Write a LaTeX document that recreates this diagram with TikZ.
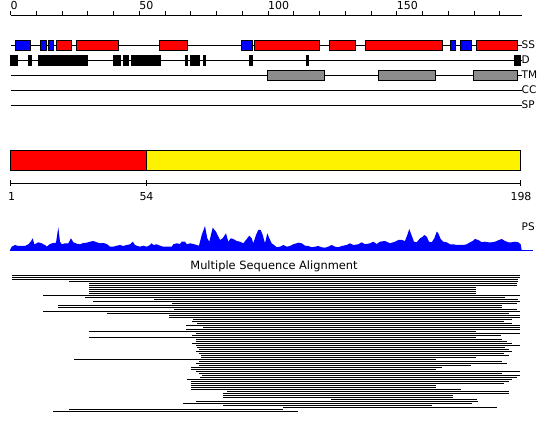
\documentclass[tikz,border=0pt]{standalone}
\usepackage{fontspec}
\setmainfont{DejaVu Sans}
\begin{document}
\begin{tikzpicture}[x=1pt,y=-1pt,
  trackline/.style={draw=black,line width=1pt},
  ssblue/.style={draw=black,fill=blue,line width=1pt},
  ssred/.style={draw=black,fill=red,line width=1pt},
  dbox/.style={draw=black,fill=black,line width=1pt},
  tmbox/.style={draw=black,fill=black!45,line width=1pt},
  lbl/.style={inner sep=0pt,font=\fontsize{10.5}{12}\selectfont},
  numlbl/.style={inner sep=0pt,font=\fontsize{11}{13}\selectfont},
  alnline/.style={draw=black,line width=0.95pt}]
\useasboundingbox (0,0) rectangle (550,433);
% top ruler
\draw[trackline] (10.5,15.5) -- (521.5,15.5);
\foreach \u in {0,10,...,190} \draw[trackline] (10.5+2.575*\u,11.5) -- (10.5+2.575*\u,15.5);
\node[numlbl,anchor=base west] (t0) at (10.5,10) {0};
\node[numlbl,anchor=base west] (t50) at (139.2,10) {50};
\node[numlbl,anchor=base west] (t100) at (268,10) {100};
\node[numlbl,anchor=base west] (t150) at (396.7,10) {150};
% track lines
\foreach \y/\t/\n in {45.5/SS/ss,60.5/D/d,75.5/TM/tm,90.5/CC/cc,105.5/SP/sp}{
  \draw[trackline] (10.5,\y) -- (521.5,\y);
  \node[lbl,anchor=base west] (lab\n) at (521.5,\y+3.4) {\t};
}
% SS boxes
\foreach \a/\b in {15.5/30.5,40.5/46.5,48.5/53.5,241.5/252.5,450.5/455.5,460.5/471.5}
  \draw[ssblue] (\a,40.5) rectangle (\b,50.5);
\foreach \a/\b in {56.5/71.5,76.5/118.5,159.5/187.5,254.5/319.5,329.5/355.5,365.5/442.5,476.5/517.5}
  \draw[ssred] (\a,40.5) rectangle (\b,50.5);
% D boxes
\foreach \a/\b in {10.5/17.5,28.5/31,38.5/87.5,113.5/120.5,123.5/128.5,131.5/160,185/187.5,190.5/199,203/205.5,249.5/252.5,306/308.5,514.5/520.5}
  \draw[dbox] (\a,55.5) rectangle (\b,65.5);
% TM boxes
\foreach \a/\b in {267.5/324.5,378.5/435.5,473.5/517.5}
  \draw[tmbox] (\a,70.5) rectangle (\b,80.5);
% domain bar
\draw[line width=1pt,fill=yellow] (146.5,150.5) rectangle (520.5,170.5);
\draw[line width=1pt,fill=red] (10.5,150.5) rectangle (146.5,170.5);
\draw[trackline] (10.5,183.5) -- (520.5,183.5);
\foreach \x in {10.5,146.5,520.5} \draw[trackline] (\x,180.5) -- (\x,186);
\node[numlbl,anchor=base] (b1) at (11.5,201) {1};
\node[numlbl,anchor=base] (b54) at (146.5,201) {54};
\node[numlbl,anchor=base] (b198) at (521,201) {198};
% PS profile
\fill[blue] (10,250) -- (11.7,246.7) -- (15,245) -- (18.3,246) -- (25,246) -- (28.3,244.3) -- (30.7,241.7) -- (32.7,238.3) -- (34.3,244.3) -- (36.7,243.3) -- (38.3,242.3) -- (41.7,243.3) -- (43.3,244.3) -- (45,245) -- (46.7,246.7) -- (50,244) -- (53.3,243) -- (56,242.7) -- (58.3,227.3) -- (60,241.7) -- (61.7,244.3) -- (65,243.3) -- (68.3,243.3) -- (71,238.3) -- (73.3,242.3) -- (76.7,243.7) -- (80,244.3) -- (83.3,243) -- (86.7,242.7) -- (90,241.7) -- (93.3,241) -- (96.7,242.3) -- (100,243.3) -- (103.3,243) -- (106.7,244) -- (110,246.7) -- (113.3,246.7) -- (116.7,245.7) -- (120,245) -- (123.3,246) -- (126.7,245) -- (130,244.3) -- (132.7,241.7) -- (135,245) -- (136.7,245.7) -- (140,246.7) -- (143.3,245.7) -- (146.7,246.7) -- (150,245) -- (151.7,243.3) -- (153.3,245) -- (156.7,244.3) -- (160,245.7) -- (163.3,246.7) -- (171.7,246.7) -- (173.3,244.3) -- (176.7,243.3) -- (180,244) -- (181.7,241.7) -- (185,241.7) -- (186.7,244.3) -- (190,243.3) -- (193.3,244) -- (196.7,245) -- (199,245.7) -- (201.7,235) -- (205,226) -- (207.3,238.3) -- (209.3,241.7) -- (212.7,227.7) -- (216,231.7) -- (220,240) -- (222.7,238.3) -- (226,233.3) -- (228.3,241.7) -- (230.7,238.3) -- (233.3,239) -- (236.7,241) -- (240,241.7) -- (243.3,243.3) -- (246.7,239) -- (249.3,235.7) -- (251.7,238.3) -- (253.3,243.3) -- (256,235) -- (258.3,230) -- (260.7,230) -- (262.7,235) -- (265,243.3) -- (267.3,233.3) -- (269.3,238.3) -- (271.7,243.3) -- (275,245.7) -- (276.7,247.3) -- (280,246.7) -- (283.3,245) -- (286.7,246.7) -- (290,246) -- (293.3,244.3) -- (298.3,242.7) -- (301.7,243.3) -- (305,245.7) -- (308.3,246) -- (311.7,247.3) -- (315,246.7) -- (318.3,246) -- (321.7,247.3) -- (325,247.7) -- (328.3,246.7) -- (331.7,245) -- (335,246.7) -- (338.3,247.3) -- (341.7,246) -- (346.7,245) -- (350,243.3) -- (353.3,245) -- (358.3,244.3) -- (361.7,242.3) -- (365,244.3) -- (370,243.3) -- (373.3,241.7) -- (376.7,244) -- (380,241.7) -- (385,241) -- (390,243.3) -- (395,241.7) -- (398.3,240) -- (401.7,240) -- (405,241) -- (407.3,235) -- (409.3,229) -- (411.7,235.7) -- (414,241.7) -- (416.7,242.3) -- (420,238.3) -- (422.7,236.7) -- (424.3,235) -- (426.7,236.7) -- (429,241.7) -- (431.7,242.3) -- (434.3,238.3) -- (436.7,231.7) -- (438.3,233.3) -- (440.7,239) -- (443.3,241.7) -- (446.7,242.3) -- (450,244.3) -- (453.3,244.3) -- (456.7,245) -- (460,245) -- (463.3,245) -- (466.7,244.3) -- (470,242.3) -- (472.7,241) -- (475,239) -- (478.3,240) -- (481.7,242.3) -- (485,241.7) -- (488.3,242.3) -- (491.7,242.3) -- (495,241.7) -- (498.3,240.3) -- (501.7,239) -- (505,241) -- (508.3,242.3) -- (511.7,242.3) -- (515,241.7) -- (518.3,242.3) -- (520.7,244.3) -- (521.7,250) -- cycle;
\draw[blue,line width=1pt] (10,250.5) -- (533,250.5);
\node[lbl,anchor=base west] (ps) at (521.5,230.6) {PS};
% alignment
\node[inner sep=0pt,font=\fontsize{11.4}{13}\selectfont,anchor=base] (msa) at (274,270) {Multiple Sequence Alignment};
\foreach \s/\e [count=\j from 0] in {12/520,12/520,12/518,69/518,89/517,89/517,89/476,89/476,89/476,89/476,43/520,85/505,154/518,93/520,172/517,58/502,58/502,174/517,43/520,107/509,169/520,169/520,193/512,192/504,197/512,186/520,203/520,186/520,89/476,196/520,192/501,89/476,196/502,196/507,192/512,196/520,197/505,199/509,196/512,199/504,201/509,201/476,74/436,199/502,196/507,199/471,191/442,191/436,196/520,199/502,202/520,200/517,187/512,191/509,191/504,191/436,191/436,191/461,227/509,223/509,223/453,223/453,331/477,196/478,183/472,223/432,283/497,69/283,53/298}
  \draw[alnline] (\s,275.5+2*\j) -- (\e,275.5+2*\j);
\end{tikzpicture}
\end{document}
